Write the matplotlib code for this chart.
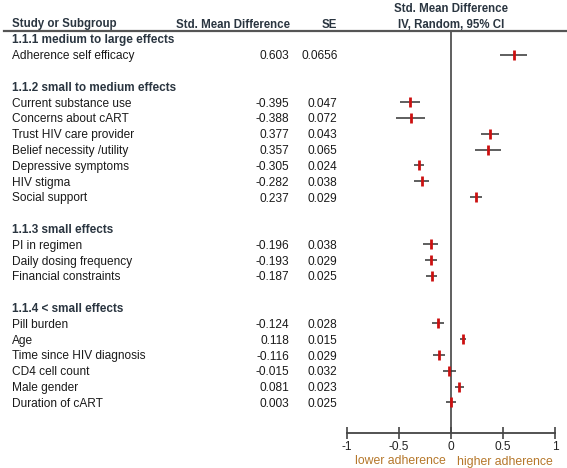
import matplotlib
matplotlib.use("Agg")
import matplotlib.pyplot as plt
import matplotlib.transforms as mtransforms
from matplotlib.lines import Line2D

plt.rcParams['font.family'] = ['Liberation Sans', 'DejaVu Sans']

groups = ["1.1.1 medium to large effects", "1.1.2 small to medium effects",
          "1.1.3 small effects", "1.1.4 < small effects"]
group_labels = [
    ["Adherence self efficacy"],
    ["Current substance use", "Concerns about cART", "Trust HIV care provider",
     "Belief necessity /utility", "Depressive symptoms", "HIV stigma", "Social support"],
    ["PI in regimen", "Daily dosing frequency", "Financial constraints"],
    ["Pill burden", "Age", "Time since HIV diagnosis", "CD4 cell count",
     "Male gender", "Duration of cART"],
]
group_smd = [
    [0.603],
    [-0.395, -0.388, 0.377, 0.357, -0.305, -0.282, 0.237],
    [-0.196, -0.193, -0.187],
    [-0.124, 0.118, -0.116, -0.015, 0.081, 0.003],
]
group_se = [
    ["0.0656"],
    ["0.047", "0.072", "0.043", "0.065", "0.024", "0.038", "0.029"],
    ["0.038", "0.029", "0.025"],
    ["0.028", "0.015", "0.029", "0.032", "0.023", "0.025"],
]
xticks = [-1, -0.5, 0, 0.5, 1]
xtick_labels = ["-1", "-0.5", "0", "0.5", "1"]

W, H = 567, 468
fig = plt.figure(figsize=(W / 100, H / 100), dpi=100)
fig.patch.set_facecolor('white')

# forest axes: x -1..1 at px 347..555, top at y=31 px, bottom(axis) at y=433 px
ax_left, ax_right = 347, 555
ax_top, ax_bot = 31, 433
ax = fig.add_axes([ax_left / W, 1 - ax_bot / H, (ax_right - ax_left) / W, (ax_bot - ax_top) / H])
row0_px, row_h = 39.0, 15.8
ax.set_ylim((ax_bot - row0_px) / row_h, (ax_top - row0_px) / row_h)
ax.set_xlim(-1, 1)
ax.patch.set_alpha(0)
for s in ['top', 'right', 'left']:
    ax.spines[s].set_visible(False)
ax.spines['bottom'].set_color('#444444')
ax.spines['bottom'].set_linewidth(1.3)
ax.set_yticks([])
ax.set_xticks(xticks)
ax.set_xticklabels(xtick_labels)
ax.tick_params(axis='x', direction='inout', length=9, width=1.2, color='#444444',
               labelsize=8.6, labelcolor='#222222', pad=1)
ax.axvline(0, color='#444444', lw=1.2)

trans = mtransforms.blended_transform_factory(fig.transFigure, ax.transData)
txt_color = '#1a1a1a'
hdr_color = '#2a3540'
fs = 8.6

row = 0
for g, labs, smds, ses in zip(groups, group_labels, group_smd, group_se):
    fig.text(12 / W, row, g, transform=trans, fontsize=8.5, fontweight='bold',
             color=hdr_color, va='center_baseline', ha='left')
    row += 1
    for lab, v, se in zip(labs, smds, ses):
        fig.text(12 / W, row, lab, transform=trans, fontsize=fs, color=txt_color,
                 va='center_baseline', ha='left')
        fig.text(289.5 / W, row, f"{v:.3f}", transform=trans, fontsize=fs, color=txt_color,
                 va='center_baseline', ha='right')
        fig.text(337.5 / W, row, se, transform=trans, fontsize=fs, color=txt_color,
                 va='center_baseline', ha='right')
        sev = float(se)
        ax.plot([v - 1.96 * sev, v + 1.96 * sev], [row, row], color='#333333', lw=1.1,
                solid_capstyle='butt', zorder=2)
        ax.plot([v], [row], marker='|', markersize=7.5, mew=2.0, color='#cc1010', zorder=3)
        row += 1
    row += 1

# headers
fig.text(12 / W, 1 - 23 / H, "Study or Subgroup", fontsize=8.3, fontweight='bold',
         color=hdr_color, ha='left', va='center_baseline')
fig.text(289.5 / W, 1 - 23 / H, "Std. Mean Difference", fontsize=8.3, fontweight='bold',
         color=hdr_color, ha='right', va='center_baseline')
fig.text(337.5 / W, 1 - 23 / H, "SE", fontsize=8.3, fontweight='bold',
         color=hdr_color, ha='right', va='center_baseline')
fig.text(451 / W, 1 - 8 / H, "Std. Mean Difference", fontsize=8.3, fontweight='bold',
         color=hdr_color, ha='center', va='center_baseline')
fig.text(451 / W, 1 - 23 / H, "IV, Random, 95% CI", fontsize=8.3, fontweight='bold',
         color=hdr_color, ha='center', va='center_baseline')
fig.add_artist(Line2D([4 / W, 1], [1 - 30.5 / H, 1 - 30.5 / H], transform=fig.transFigure,
                      color='#555555', lw=1.6))

lab_color = '#b5772a'
fig.text(446 / W, 1 - 460 / H, "lower adherence", fontsize=8.8, color=lab_color,
         ha='right', va='center_baseline')
fig.text(457 / W, 1 - 460 / H, "higher adherence", fontsize=8.8, color=lab_color,
         ha='left', va='center_baseline')

fig.savefig("out.png", dpi=100, facecolor='white')
